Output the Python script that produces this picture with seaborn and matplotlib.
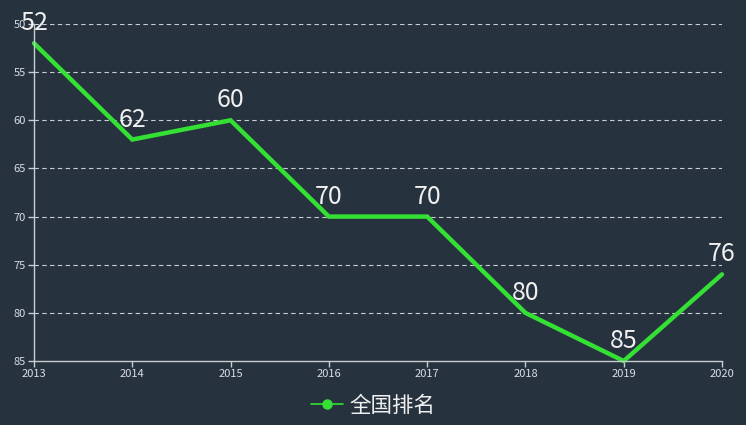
import pandas as pd
import matplotlib
matplotlib.use("Agg")
import matplotlib.pyplot as plt
import seaborn as sns
from matplotlib.lines import Line2D

# === Data ===
years = [2013, 2014, 2015, 2016, 2017, 2018, 2019, 2020]
ranks = [52, 62, 60, 70, 70, 80, 85, 76]
series_name = "全国排名"
y_ticks = [50, 55, 60, 65, 70, 75, 80, 85]

df = pd.DataFrame({"year": years, "rank": ranks})

# === Style ===
bg = "#27323f"
fg = "#d8dde2"
green = "#33e033"

sns.set_style("dark")
plt.rcParams["font.family"] = ["Noto Sans CJK SC", "DejaVu Sans"]

fig = plt.figure(figsize=(7.46, 4.25), dpi=100, facecolor=bg)
ax = fig.add_axes([34 / 746, 1 - 361 / 425, (722 - 34) / 746, (361 - 24) / 425])
ax.set_facecolor(bg)

sns.lineplot(data=df, x="year", y="rank", color=green, linewidth=3.2,
             ax=ax, clip_on=False, solid_joinstyle="miter")

ax.set_xlim(2013, 2020)
ax.set_ylim(85, 50)
ax.set_yticks(y_ticks)
ax.set_xticks(years)
ax.set_xlabel("")
ax.set_ylabel("")

# dashed grid
for v in y_ticks[:-1]:
    ax.axhline(v, color="#c8cdd2", linestyle=(0, (4, 3)), linewidth=0.8, zorder=0)
ax.grid(False)

for side in ["top", "right"]:
    ax.spines[side].set_visible(False)
for side in ["left", "bottom"]:
    ax.spines[side].set_visible(True)
    ax.spines[side].set_color("#c8cdd2")
    ax.spines[side].set_linewidth(1)

ax.tick_params(colors="#c8cdd2", labelcolor=fg, labelsize=8, length=4, width=1,
               direction="out", bottom=True, left=True, pad=2)

# === Value labels ===
for x, y in zip(years, ranks):
    ax.annotate(str(y), (x, y), xytext=(0, 5), textcoords="offset points",
                ha="center", va="bottom", fontsize=18, color="#f0f0f0",
                annotation_clip=False)

# === Legend ===
handle = Line2D([0], [0], color=green, linewidth=1.2, marker="o",
                markersize=6.5, markerfacecolor=green, markeredgecolor=green)
leg = fig.legend([handle], [series_name], loc="center", bbox_to_anchor=(0.5, 1 - 406 / 425),
                 frameon=False, fontsize=15.5, handlelength=1.5, handletextpad=0.3,
                 labelcolor="#f0f0f0")

fig.savefig("out.png", dpi=100, facecolor=bg)
plt.close(fig)
